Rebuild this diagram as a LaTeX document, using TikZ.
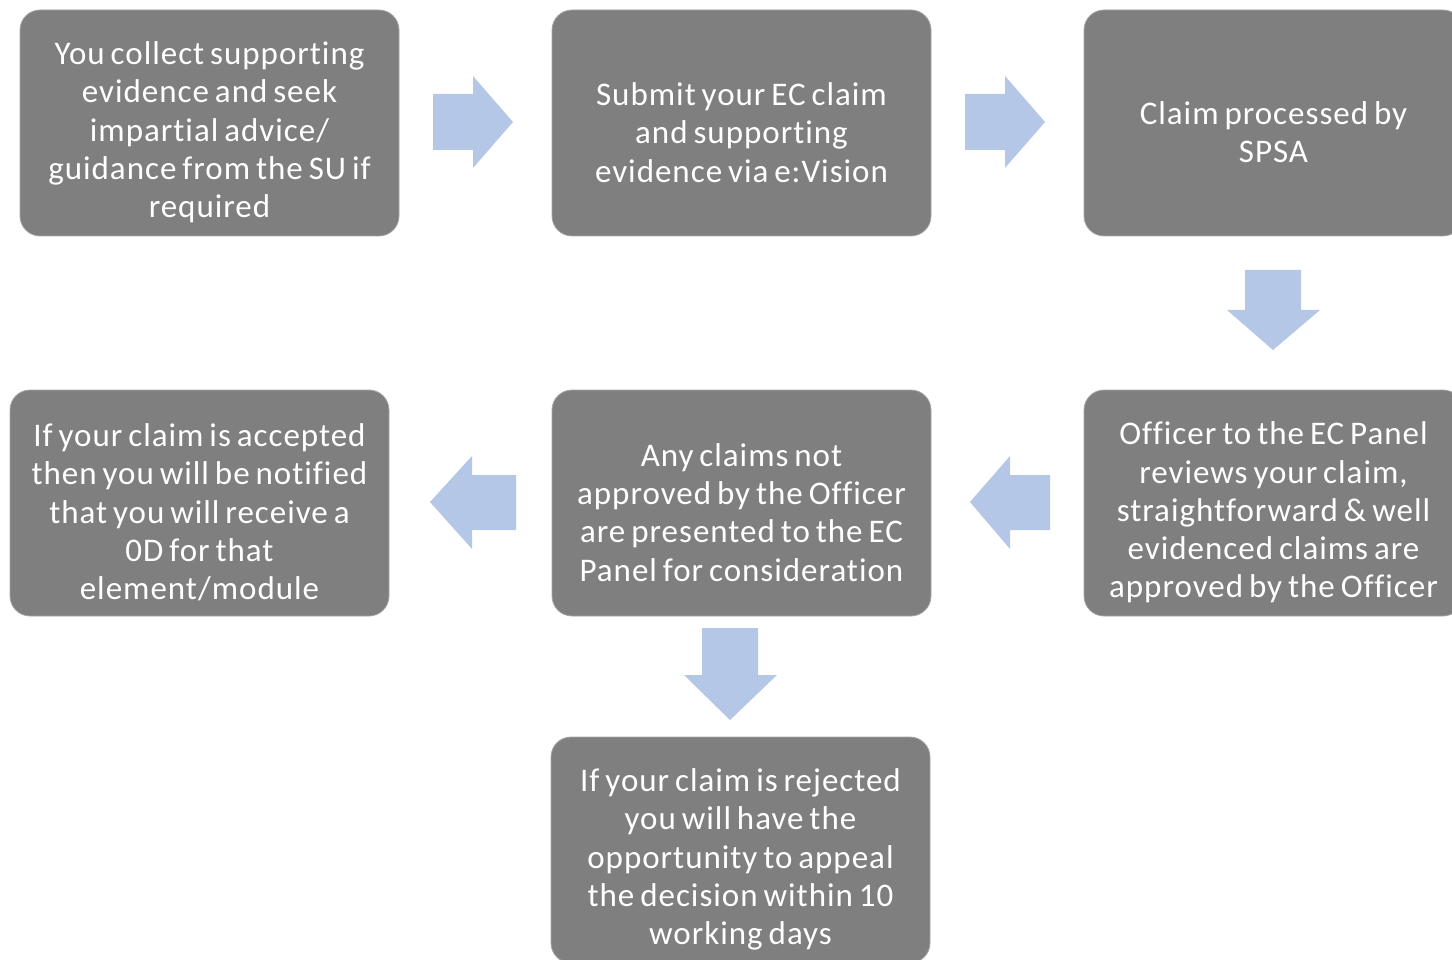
\documentclass[tikz,border=0pt]{standalone}
\usepackage{fontspec}
\setmainfont{Carlito}[LetterSpace=3,WordSpace=0.7,Ligatures=NoCommon]
\definecolor{boxgray}{HTML}{7F7F7F}
\definecolor{boxedge}{HTML}{A6A6A6}
\definecolor{arrowblue}{HTML}{B4C7E7}
\tikzset{
  stepbox/.style={draw=boxedge, line width=0.8pt, fill=boxgray, rounded corners=20pt,
    minimum width=379pt, minimum height=226pt, inner sep=0pt},
  steptext/.style={text=white, align=center, inner sep=0pt, yshift=-9.5pt,
    font=\fontsize{33}{38.3}\selectfont},
  blockarrow/.style={fill=arrowblue, draw=none}
}
\begin{document}
\begin{tikzpicture}[x=1pt,y=-1pt]
\path[use as bounding box] (0,0) rectangle (1452,960);
\clip (0,0) rectangle (1452,960);
% boxes
\node[stepbox] (b1) at (209.5,123) {};
\node[stepbox] (b2) at (741.5,123) {};
\node[stepbox] (b3) at (1273.5,123) {};
\node[stepbox] (b4) at (1273.5,503) {};
\node[stepbox] (b5) at (741.5,503) {};
\node[stepbox] (b6) at (199.5,503) {};
\node[stepbox] (b7) at (740.5,850) {};
% texts
\node[steptext] (t1) at (b1.center) {You collect supporting\\evidence and seek\\impartial advice/\\guidance from the SU if\\required};
\node[steptext] (t2) at (b2.center) {Submit your EC claim\\and supporting\\evidence via e:Vision};
\node[steptext] (t3) at (b3.center) {Claim processed by\\SPSA};
\node[steptext] (t4) at (b4.center) {Officer to the EC Panel\\reviews your claim,\\straightforward \& well\\evidenced claims are\\approved by the Officer};
\node[steptext] (t5) at (b5.center) {Any claims not\\approved by the Officer\\are presented to the EC\\Panel for consideration};
\node[steptext] (t6) at (b6.center) {If your claim is accepted\\then you will be notified\\that you will receive a\\0D for that\\element/module};
\node[steptext] (t7) at (b7.center) {If your claim is rejected\\you will have the\\opportunity to appeal\\the decision within 10\\working days};
% block arrows (right)
\fill[blockarrow] (433,94) -- (473,94) -- (473,76) -- (513,122) -- (473,168) -- (473,150) -- (433,150) -- cycle;
\fill[blockarrow] (965,94) -- (1005,94) -- (1005,76) -- (1045,122) -- (1005,168) -- (1005,150) -- (965,150) -- cycle;
% down arrows
\fill[blockarrow] (1245,270) -- (1301,270) -- (1301,310) -- (1320,310) -- (1273,350) -- (1227,310) -- (1245,310) -- cycle;
\fill[blockarrow] (702,628) -- (758,628) -- (758,675) -- (777,675) -- (730,720) -- (684,675) -- (702,675) -- cycle;
% left arrows
\fill[blockarrow] (1050,475) -- (1010,475) -- (1010,456) -- (970,502) -- (1010,549) -- (1010,530) -- (1050,530) -- cycle;
\fill[blockarrow] (516,475) -- (472,475) -- (472,456) -- (430,502) -- (472,549) -- (472,530) -- (516,530) -- cycle;
\end{tikzpicture}
\end{document}
